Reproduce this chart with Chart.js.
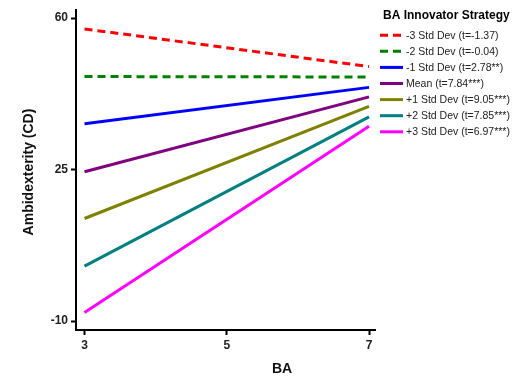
<!DOCTYPE html>
<html>
<head>
<meta charset="utf-8">
<script src="https://cdn.jsdelivr.net/npm/chart.js@4.4.1/dist/chart.umd.min.js"></script>
<style>
  html, body { margin: 0; padding: 0; background: #fff; }
  #wrap { width: 520px; height: 381px; position: relative; }
</style>
</head>
<body>
<div id="wrap"><canvas id="c" width="520" height="381"></canvas></div>
<script>
// Simple slopes of Ambidexterity on BA at levels of BA Innovator Strategy
const baValues = [3, 7];
const xTicks = [3, 5, 7];
const yTicks = [-10, 25, 60];
const seriesLabels = [
  '-3 Std Dev (t=-1.37)',
  '-2 Std Dev (t=-0.04)',
  '-1 Std Dev (t=2.78**)',
  'Mean (t=7.84***)',
  '+1 Std Dev (t=9.05***)',
  '+2 Std Dev (t=7.85***)',
  '+3 Std Dev (t=6.97***)'
];
const minus3 = [57.5, 48.8];
const minus2 = [46.5, 46.4];
const minus1 = [35.6, 44.0];
const meanLine = [24.5, 41.8];
const plus1 = [13.7, 39.6];
const plus2 = [2.7, 37.2];
const plus3 = [-8.0, 35.0];

const seriesValues = [minus3, minus2, minus1, meanLine, plus1, plus2, plus3];
const colors = ['#ff0000', '#008000', '#0000ff', '#800080', '#808000', '#008080', '#ff00ff'];
const dashes = [[8, 5], [8, 5], [], [], [], [], []];

const FONT = '"Liberation Sans", Arial, sans-serif';

const datasets = seriesValues.map((vals, i) => ({
  label: seriesLabels[i],
  data: vals.map((v, j) => ({ x: baValues[j], y: v })),
  borderColor: colors[i],
  backgroundColor: colors[i],
  borderWidth: 3,
  borderDash: dashes[i],
  pointRadius: 0,
  tension: 0,
  fill: false
}));

// Draws the legend block and the two axis titles
const decorations = {
  id: 'decorations',
  afterDraw(chart) {
    const ctx = chart.ctx;
    ctx.save();
    ctx.fillStyle = '#000';
    ctx.textBaseline = 'middle';
    ctx.textAlign = 'left';
    ctx.font = 'bold 12px ' + FONT;
    ctx.fillText('BA Innovator Strategy', 383, 15.5);

    chart.data.datasets.forEach((ds, i) => {
      const y = 35.2 + i * 16.1;
      ctx.beginPath();
      ctx.setLineDash(ds.borderDash || []);
      ctx.strokeStyle = ds.borderColor;
      ctx.lineWidth = 3;
      ctx.moveTo(380, y);
      ctx.lineTo(403, y);
      ctx.stroke();
      ctx.setLineDash([]);
      ctx.fillStyle = '#222';
      ctx.font = '10.5px ' + FONT;
      ctx.fillText(ds.label, 406, y + 0.5);
    });

    ctx.fillStyle = '#111';
    ctx.font = 'bold 14px ' + FONT;
    ctx.textAlign = 'center';
    ctx.fillText('BA', 282, 369);

    ctx.translate(29, 172);
    ctx.rotate(-Math.PI / 2);
    ctx.fillText('Ambidexterity (CD)', 0, 0);
    ctx.restore();
  }
};

new Chart(document.getElementById('c'), {
  type: 'line',
  data: { datasets },
  options: {
    responsive: false,
    animation: false,
    events: [],
    layout: { padding: { left: 0, right: 145, top: 7, bottom: 0 } },
    plugins: { legend: { display: false }, tooltip: { enabled: false } },
    scales: {
      x: {
        type: 'linear',
        min: 2.88,
        max: 7.084,
        afterBuildTicks: s => { s.ticks = xTicks.map(v => ({ value: v })); },
        afterFit: s => { s.height = 51; },
        grid: { drawOnChartArea: false, drawTicks: true, tickLength: 5, tickWidth: 2, tickColor: '#000' },
        border: { display: true, color: '#000', width: 2 },
        ticks: { color: '#222', padding: 3, font: { family: FONT, size: 12, weight: 'bold' }, maxRotation: 0 }
      },
      y: {
        type: 'linear',
        min: -12.06,
        max: 61.83,
        afterBuildTicks: s => { s.ticks = yTicks.map(v => ({ value: v })); },
        afterFit: s => { s.width = 76; },
        grid: { drawOnChartArea: false, drawTicks: true, tickLength: 5, tickWidth: 2, tickColor: '#000' },
        border: { display: true, color: '#000', width: 2 },
        ticks: { color: '#222', padding: 3, font: { family: FONT, size: 12, weight: 'bold' } }
      }
    }
  },
  plugins: [decorations]
});
</script>
</body>
</html>
